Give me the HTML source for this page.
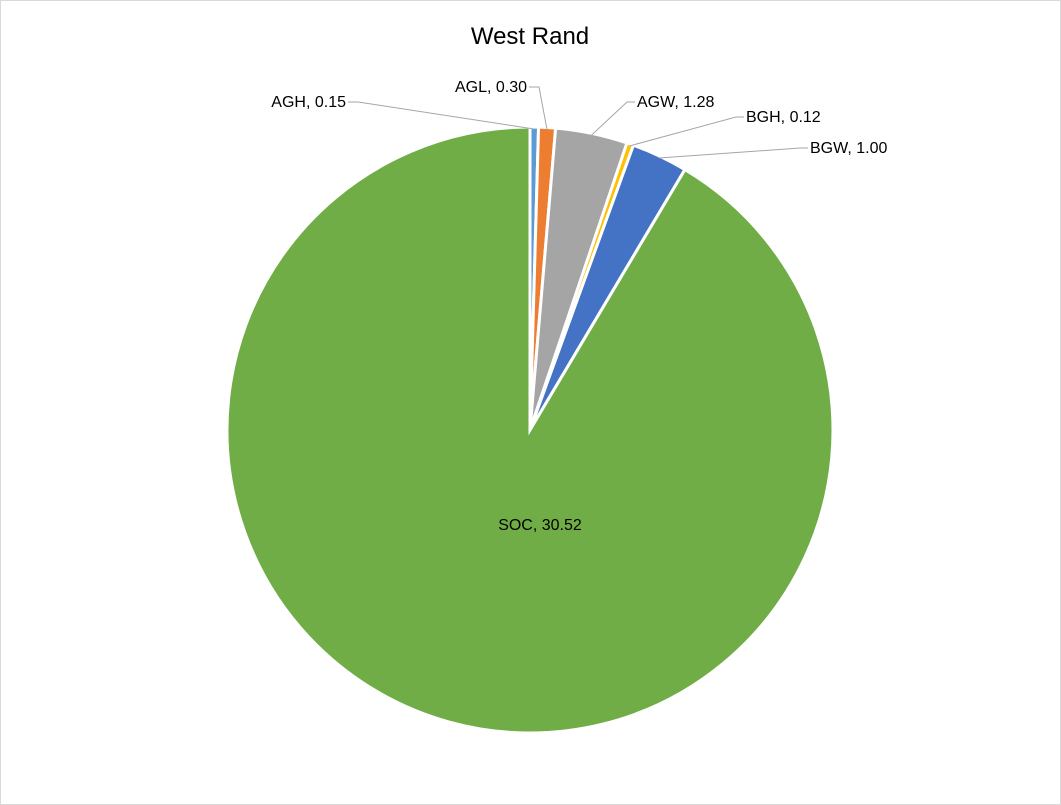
<!DOCTYPE html>
<html><head><meta charset="utf-8">
<style>
body{margin:0;background:#fff;}
svg{display:block;font-family:"Liberation Sans",sans-serif;}
</style></head>
<body>
<svg id="chart" width="1061" height="805" viewBox="0 0 1061 805">
<rect x="0.5" y="0.5" width="1060" height="804" fill="#fff" stroke="#d9d9d9"/>
<text x="530" y="44" text-anchor="middle" font-size="24" fill="#000">West Rand</text>
<g id="slices"></g>
<g id="labels"></g>
</svg>
<script>
const categories = ["AGH","AGL","AGW","BGH","BGW","SOC"];
const values = [0.15,0.30,1.28,0.12,1.00,30.52];
const valueLabels = ["0.15","0.30","1.28","0.12","1.00","30.52"];
const colors = ["#5b9bd5","#ed7d31","#a5a5a5","#ffc000","#4472c4","#70ad47"];
const cx=530, cy=430, r=303;
const NS="http://www.w3.org/2000/svg";
const total=values.reduce((a,b)=>a+b,0);
const gS=document.getElementById('slices'), gL=document.getElementById('labels');
function pt(a,rad){return [cx+rad*Math.sin(a), cy-rad*Math.cos(a)];}
// label anchor positions (layout, not data)
const labelPos=[[346,107,'end'],[527,92,'end'],[637,107,'start'],[746,122,'start'],[810,153,'start'],[540,530,'middle']];
let start=0;
values.forEach((v,i)=>{
  const ang=v/total*2*Math.PI, end=start+ang;
  const p0=pt(start,r), p1=pt(end,r);
  const path=document.createElementNS(NS,'path');
  path.setAttribute('d',`M${cx},${cy} L${p0[0]},${p0[1]} A${r},${r} 0 ${ang>Math.PI?1:0} 1 ${p1[0]},${p1[1]} Z`);
  path.setAttribute('fill',colors[i]);path.setAttribute('stroke','#fff');path.setAttribute('stroke-width','3');
  
  
  gS.appendChild(path);
  const mid=(start+end)/2;
  const lp=labelPos[i];
  if(i<5){
    const e=pt(mid,r-2);
    const line=document.createElementNS(NS,'polyline');
    const lx = lp[2]==='end'? lp[0]+12 : lp[0]-10;
    line.setAttribute('points',`${lp[2]==='end'?lp[0]+2:lp[0]-2},${lp[1]-5} ${lx},${lp[1]-5} ${e[0]},${e[1]}`);
    line.setAttribute('fill','none');line.setAttribute('stroke','#a6a6a6');line.setAttribute('stroke-width','1');
    
    
    gL.appendChild(line);
  }
  const t=document.createElementNS(NS,'text');
  t.setAttribute('x',lp[0]);t.setAttribute('y',lp[1]);t.setAttribute('text-anchor',lp[2]);
  t.setAttribute('font-size','16');t.setAttribute('fill','#000');
  t.textContent=categories[i]+', '+valueLabels[i];
  
  
  gL.appendChild(t);
  start=end;
});
</script>
</body></html>
